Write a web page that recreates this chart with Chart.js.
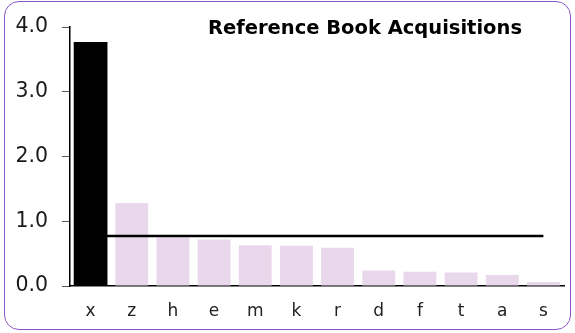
<!DOCTYPE html>
<html>
<head>
<meta charset="utf-8">
<script src="https://cdn.jsdelivr.net/npm/chart.js@4/dist/chart.umd.min.js"></script>
<style>
  html, body { margin: 0; padding: 0; background: #fff; }
  #wrap { position: relative; width: 575px; height: 333px; }
  #chart { position: absolute; left: 0; top: 0; }
  #frame {
    position: absolute; left: 4px; top: 1px; width: 565px; height: 327px;
    border: 1.5px solid #8a55c4; border-radius: 15px; pointer-events: none;
  }
</style>
</head>
<body>
<div id="wrap">
  <canvas id="chart" width="575" height="333"></canvas>
  <div id="frame"></div>
</div>
<script>
const categories = ['x', 'z', 'h', 'e', 'm', 'k', 'r', 'd', 'f', 't', 'a', 's'];
const acquisitions = [3.77, 1.28, 0.75, 0.72, 0.63, 0.62, 0.59, 0.24, 0.22, 0.21, 0.17, 0.06];
const yTicks = [0, 1, 2, 3, 4];
const titleText = 'Reference Book Acquisitions';

// The leading category is highlighted in black, the rest are pale.
const leadValues = acquisitions.map((v, i) => (i === 0 ? v : null));
const otherValues = acquisitions.map((v, i) => (i === 0 ? null : v));
const average = acquisitions.reduce((a, b) => a + b, 0) / acquisitions.length;
const averageLine = categories.map(() => average);

const FONT = 'Verdana, "DejaVu Sans", sans-serif';

const titleInPlot = {
  id: 'titleInPlot',
  afterDraw(chart) {
    const { ctx, chartArea } = chart;
    ctx.save();
    ctx.font = 'bold 19.5px ' + FONT;
    ctx.fillStyle = '#000';
    ctx.textAlign = 'right';
    ctx.textBaseline = 'middle';
    ctx.fillText(titleText, chartArea.right - 42, 29);
    ctx.restore();
  }
};

new Chart(document.getElementById('chart'), {
  data: {
    labels: categories,
    datasets: [
      {
        type: 'bar', data: leadValues, backgroundColor: '#000000',
        order: 0, barPercentage: 0.82, categoryPercentage: 1.0
      },
      {
        type: 'line', data: averageLine, borderColor: '#000000', borderWidth: 2.5,
        pointRadius: 0, order: 1
      },
      {
        type: 'bar', data: otherValues, backgroundColor: '#e9d8eb',
        order: 2, barPercentage: 0.8, categoryPercentage: 1.0
      }
    ]
  },
  options: {
    responsive: false,
    animation: false,
    events: [],
    layout: { padding: { left: 0, right: 11, top: 27, bottom: 0 } },
    plugins: { legend: { display: false }, tooltip: { enabled: false }, title: { display: false } },
    scales: {
      x: {
        stacked: true,
        offset: true,
        grid: { display: false },
        border: { display: true, color: '#000', width: 1.5 },
        ticks: { color: '#222', font: { size: 17, family: FONT }, padding: 7 },
        afterFit(scale) { scale.height = 333 - 286; }
      },
      y: {
        stacked: false,
        min: 0, max: 4,
        afterBuildTicks(scale) { scale.ticks = yTicks.map(v => ({ value: v })); },
        grid: { drawOnChartArea: false, drawTicks: true, tickLength: 8, color: '#555', tickWidth: 1 },
        border: { display: true, color: '#000', width: 1.5 },
        ticks: {
          color: '#1a1a1a', font: { size: 20.5, family: FONT }, padding: 14,
          callback: v => Number(v).toFixed(1)
        },
        afterFit(scale) { scale.width = 70; }
      }
    }
  },
  plugins: [titleInPlot]
});
</script>
</body>
</html>
